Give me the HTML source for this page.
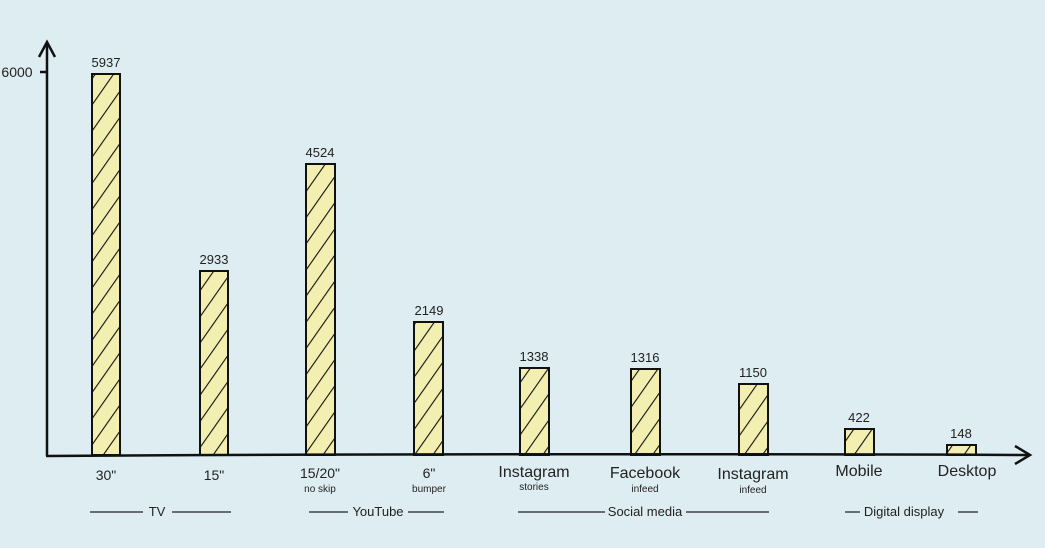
<!DOCTYPE html>
<html><head><meta charset="utf-8"><style>
body{margin:0;background:#deedf1;}
svg{display:block;font-family:"Liberation Sans",sans-serif;}
</style></head><body>
<svg width="1045" height="548" viewBox="0 0 1045 548">
<defs>
<pattern id="h" width="15" height="15" patternUnits="userSpaceOnUse" patternTransform="rotate(35)">
<rect width="15" height="15" fill="#f2efb0"/>
<line x1="0" y1="0" x2="0" y2="15" stroke="#111" stroke-width="2.2"/>
</pattern>
</defs>
<rect width="1045" height="548" fill="#deedf1"/>
<g fill="url(#h)" stroke="#111" stroke-width="2">
<rect x="92" y="74" width="28" height="381"/>
<rect x="200" y="271" width="28" height="184"/>
<rect x="306" y="164" width="29" height="291"/>
<rect x="414" y="322" width="29" height="133"/>
<rect x="520" y="368" width="29" height="87"/>
<rect x="631" y="369" width="29" height="86"/>
<rect x="739" y="384" width="29" height="71"/>
<rect x="845" y="429" width="29" height="26"/>
<rect x="947" y="445" width="29" height="10"/>
</g>
<g stroke="#111" stroke-width="2.5" fill="none">
<path d="M47 456 L47 43"/><path d="M39 57 L47 42 L55 57"/>
<path d="M46 456 Q500 453 1030 455"/><path d="M1015 446 L1030 455 L1015 464"/>
<path d="M40 72 L48 72"/>
</g>
<g font-size="13" fill="#222" text-anchor="middle">
<text x="106" y="67">5937</text><text x="214" y="264">2933</text>
<text x="320" y="157">4524</text><text x="429" y="315">2149</text>
<text x="534" y="361">1338</text><text x="645" y="362">1316</text>
<text x="753" y="377">1150</text><text x="859" y="422">422</text>
<text x="961" y="438">148</text>
<text x="17" y="77" font-size="14">6000</text>
</g>
<g font-size="16" fill="#222" text-anchor="middle">
<text x="106" y="480" font-size="14">30"</text><text x="214" y="480" font-size="14">15"</text>
<text x="320" y="478" font-size="14">15/20"</text><text x="429" y="478" font-size="14">6"</text>
<text x="534" y="477">Instagram</text><text x="645" y="478">Facebook</text>
<text x="753" y="479">Instagram</text><text x="859" y="476">Mobile</text>
<text x="967" y="476">Desktop</text>
</g>
<g font-size="10" fill="#222" text-anchor="middle">
<text x="320" y="492">no skip</text><text x="429" y="492">bumper</text>
<text x="534" y="490">stories</text><text x="645" y="492">infeed</text><text x="753" y="493">infeed</text>
</g>
<g font-size="13" fill="#222" text-anchor="middle">
<text x="157" y="516">TV</text><text x="378" y="516">YouTube</text>
<text x="645" y="516">Social media</text><text x="904" y="516">Digital display</text>
</g>
<g stroke="#222" stroke-width="1.3">
<path d="M90 512 H143 M172 512 H231"/>
<path d="M309 512 H348 M408 512 H444"/>
<path d="M518 512 H605 M686 512 H769"/>
<path d="M845 512 H860 M958 512 H978"/>
</g>
</svg>
</body></html>
